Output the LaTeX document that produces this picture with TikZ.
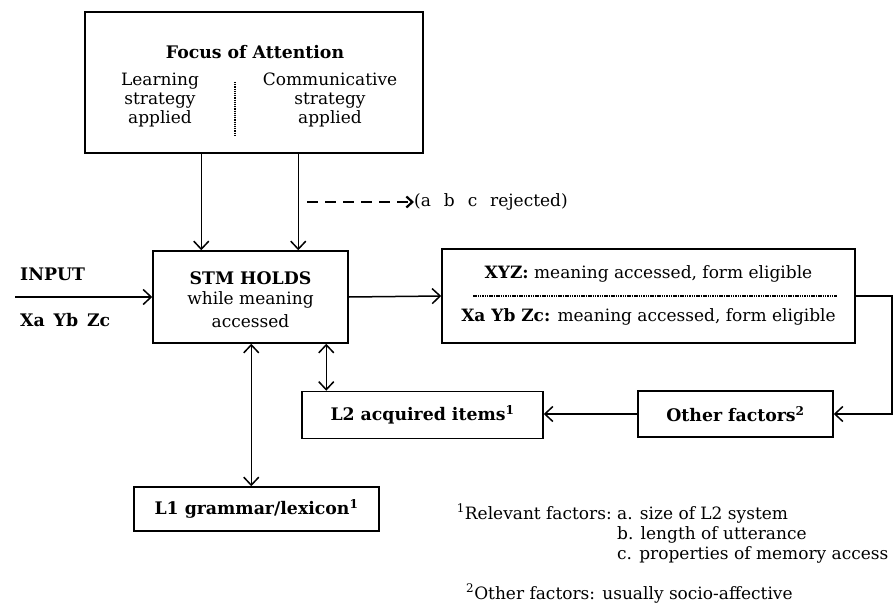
\documentclass[tikz,border=0pt]{standalone}
\usepackage{fontspec}
\setmainfont{DejaVu Serif}
\usetikzlibrary{arrows.meta}
\begin{document}
\begin{tikzpicture}[x=1pt,y=-1pt,
  box/.style={draw,line width=1.5pt,inner sep=0pt},
  arr/.style={line width=1.5pt,-{Straight Barb[length=8pt,width=15pt,line width=1.5pt]}},
  darr/.style={line width=1.5pt,{Straight Barb[length=8pt,width=15pt,line width=1.5pt]}-{Straight Barb[length=8pt,width=15pt,line width=1.5pt]}},
  txt/.style={font=\fontsize{17}{19}\selectfont},
  btxt/.style={font=\fontsize{17.3}{19}\selectfont\bfseries},
  every node/.style={inner sep=0pt}]
\useasboundingbox (0,0) rectangle (894,605);
% Focus box
\node[box,minimum width=338pt,minimum height=141pt] (focus) at (254,82.5) {};
\node[btxt] (ftitle) at (255,52) {Focus of Attention};
\node[txt,align=center] (learn) at (160,100) {Learning\\strategy\\applied};
\node[txt,align=center] (comm) at (330,100) {Communicative\\strategy\\applied};
\coordinate (dt) at (235,82);
\coordinate (db) at (235,135);
\draw[line width=1.5pt,dash pattern=on 1.2pt off 1pt] (dt) -- (db);
% STM box
\node[box,minimum width=195pt,minimum height=92pt] (stm) at (250.5,297) {};
\node[btxt] (stm1) at (250.5,278) {STM HOLDS};
\node[txt] (stm2) at (250.5,300) {while meaning};
\node[txt] (stm3) at (250.5,321) {accessed};
\draw[arr] ([xshift=49pt]stm.north west |- focus.south) -- ([xshift=49pt]stm.north west);
\draw[arr] ([xshift=146pt]stm.north west |- focus.south) -- ([xshift=146pt]stm.north west);
% rejected
\coordinate (dstart) at (307,202);
\node[txt,anchor=west] (rej) at (414,202) {(a\;\, b\;\, c\;\, rejected)};
\draw[line width=1.5pt,dash pattern=on 11pt off 7pt,-{Straight Barb[length=6pt,width=11pt,line width=2.2pt]}] (dstart) -- (rej.west);
% input
\node[btxt,anchor=west] (input) at (20,274) {INPUT};
\node[btxt,anchor=west] (xyzin) at (20,320) {Xa\, Yb\, Zc};
\coordinate (inp) at (15,297);
\draw[arr] (inp) -- (stm.west);
% XYZ box
\node[box,minimum width=413pt,minimum height=94pt] (xyz) at (648.5,296) {};
\node[txt] (x1) at (648.5,274) {\textbf{XYZ:} meaning accessed, form eligible};
\node[txt] (x2) at (648.5,317) {\textbf{Xa Yb Zc:} meaning accessed, form eligible};
\coordinate (xl) at (473,296);
\coordinate (xr) at (837,296);
\draw[line width=1.1pt,dash pattern=on 1.5pt off 0.8pt] (xl) -- (xr);
\draw[arr] (stm.east) -- (xyz.west);
% Other factors
\node[box,minimum width=195pt,minimum height=46pt] (other) at (735.5,414) {};
\node[btxt] (othert) at (735.5,414) {Other factors\textsuperscript{2}};
\coordinate (rc) at (892,296);
\draw[arr] (xyz.east) -- (rc) |- (other.east);
% L2 box
\node[box,minimum width=241pt,minimum height=47pt] (l2) at (422.5,415) {};
\node[btxt] (l2t) at (422.5,415) {L2 acquired items\textsuperscript{1}};
\draw[arr] (other.west) -- (l2.east |- other.west);
\draw[darr] ([xshift=174pt]stm.south west) -- ([xshift=174pt]stm.south west |- l2.north);
% L1 box
\node[box,minimum width=245pt,minimum height=44pt] (l1) at (256.5,509) {};
\node[btxt] (l1t) at (256.5,509) {L1 grammar/lexicon\textsuperscript{1}};
\draw[darr] ([xshift=99pt]stm.south west) -- ([xshift=99pt]stm.south west |- l1.north);
% footnotes
\node[txt,anchor=base east] (fn1) at (612,519) {\textsuperscript{1}Relevant factors:};
\node[txt,anchor=base west] (fn1a) at (617,519) {a. size of L2 system};
\node[txt,anchor=base west] (fn1b) at (617,539) {b. length of utterance};
\node[txt,anchor=base west] (fn1c) at (617,559) {c. properties of memory access};
\node[txt,anchor=base west] (fn2) at (466,599) {\textsuperscript{2}Other factors: usually socio-affective};
\end{tikzpicture}
\end{document}
